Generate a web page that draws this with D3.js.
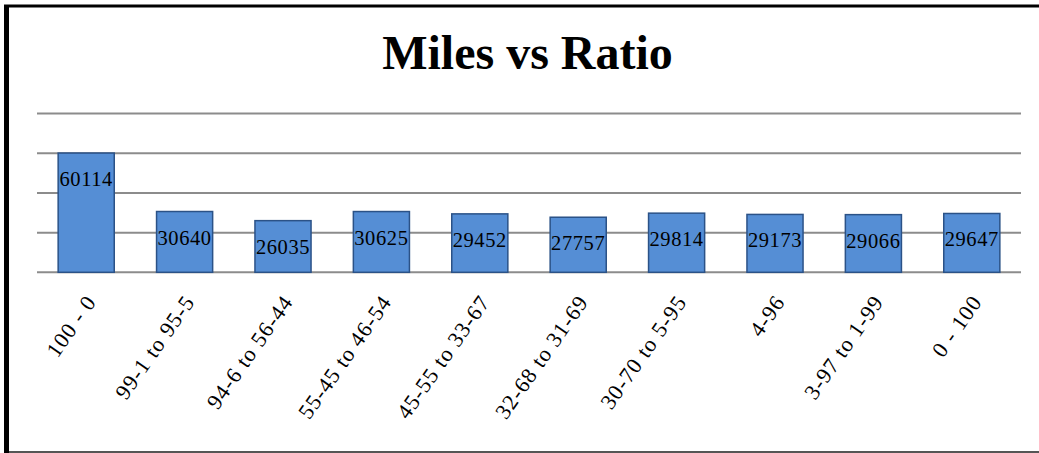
<!DOCTYPE html>
<html>
<head>
<meta charset="utf-8">
<script src="https://cdn.jsdelivr.net/npm/d3@7"></script>
<style>
  body { margin: 0; background: #fff; }
  svg { display: block; }
</style>
</head>
<body>
<svg id="chart" width="1039" height="453"></svg>
<script>
// chart data
const categories = ["100 - 0", "99-1 to 95-5", "94-6 to 56-44", "55-45 to 46-54", "45-55 to 33-67",
  "32-68 to 31-69", "30-70 to 5-95", "4-96", "3-97 to 1-99", "0 - 100"];
const miles = [60114, 30640, 26035, 30625, 29452, 27757, 29814, 29173, 29066, 29647];
const gridTicks = [0, 20000, 40000, 60000, 80000];

const W = 1039, H = 453;
const plot = { left: 37, right: 1021, top: 113.6, bottom: 272.3 };
const serif = "'Liberation Serif', 'Times New Roman', Times, serif";

const svg = d3.select("#chart");

// frame
svg.append("line").attr("x1", 6.5).attr("x2", 6.5).attr("y1", 5).attr("y2", H)
  .attr("stroke", "#000").attr("stroke-width", 5);
svg.append("line").attr("x1", 4).attr("x2", W).attr("y1", 6).attr("y2", 6)
  .attr("stroke", "#000").attr("stroke-width", 3);
svg.append("line").attr("x1", 9).attr("x2", W).attr("y1", 452).attr("y2", 452)
  .attr("stroke", "#555").attr("stroke-width", 2);

// title
svg.append("text")
  .attr("x", 527.5).attr("y", 69)
  .attr("text-anchor", "middle")
  .attr("font-family", serif)
  .attr("font-size", 48).attr("font-weight", "bold")
  .text("Miles vs Ratio");

// scales
const x = d3.scaleBand().domain(categories).range([plot.left, plot.right])
  .paddingInner(0.43).paddingOuter(0.215);
const y = d3.scaleLinear().domain([0, 80000]).range([plot.bottom, plot.top]);

// gridlines
svg.append("g").selectAll("line").data(gridTicks).join("line")
  .attr("x1", plot.left).attr("x2", plot.right)
  .attr("y1", d => y(d)).attr("y2", d => y(d))
  .attr("stroke", "#8c8c8c").attr("stroke-width", 2);

// bars
svg.append("g").selectAll("rect").data(miles).join("rect")
  .attr("x", (d, i) => x(categories[i]))
  .attr("y", d => y(d))
  .attr("width", x.bandwidth())
  .attr("height", d => y(0) - y(d))
  .attr("fill", "#558ED5")
  .attr("stroke", "#2B5287").attr("stroke-width", 1.5);

// value labels
svg.append("g").selectAll("text").data(miles).join("text")
  .attr("x", (d, i) => x(categories[i]) + x.bandwidth() / 2)
  .attr("y", d => y(d) + 33)
  .attr("text-anchor", "middle")
  .attr("font-family", serif)
  .attr("font-size", 20.5)
  .attr("letter-spacing", 0.6)
  .text(d => d);

// category labels, rotated
svg.append("g").selectAll("text").data(categories).join("text")
  .attr("transform", d => `translate(${x(d) + x.bandwidth() / 2 + 11},302) rotate(-55)`)
  .attr("text-anchor", "end")
  .attr("font-family", serif)
  .attr("font-size", 22)
  .attr("letter-spacing", 1)
  .text(d => d);
</script>
</body>
</html>
